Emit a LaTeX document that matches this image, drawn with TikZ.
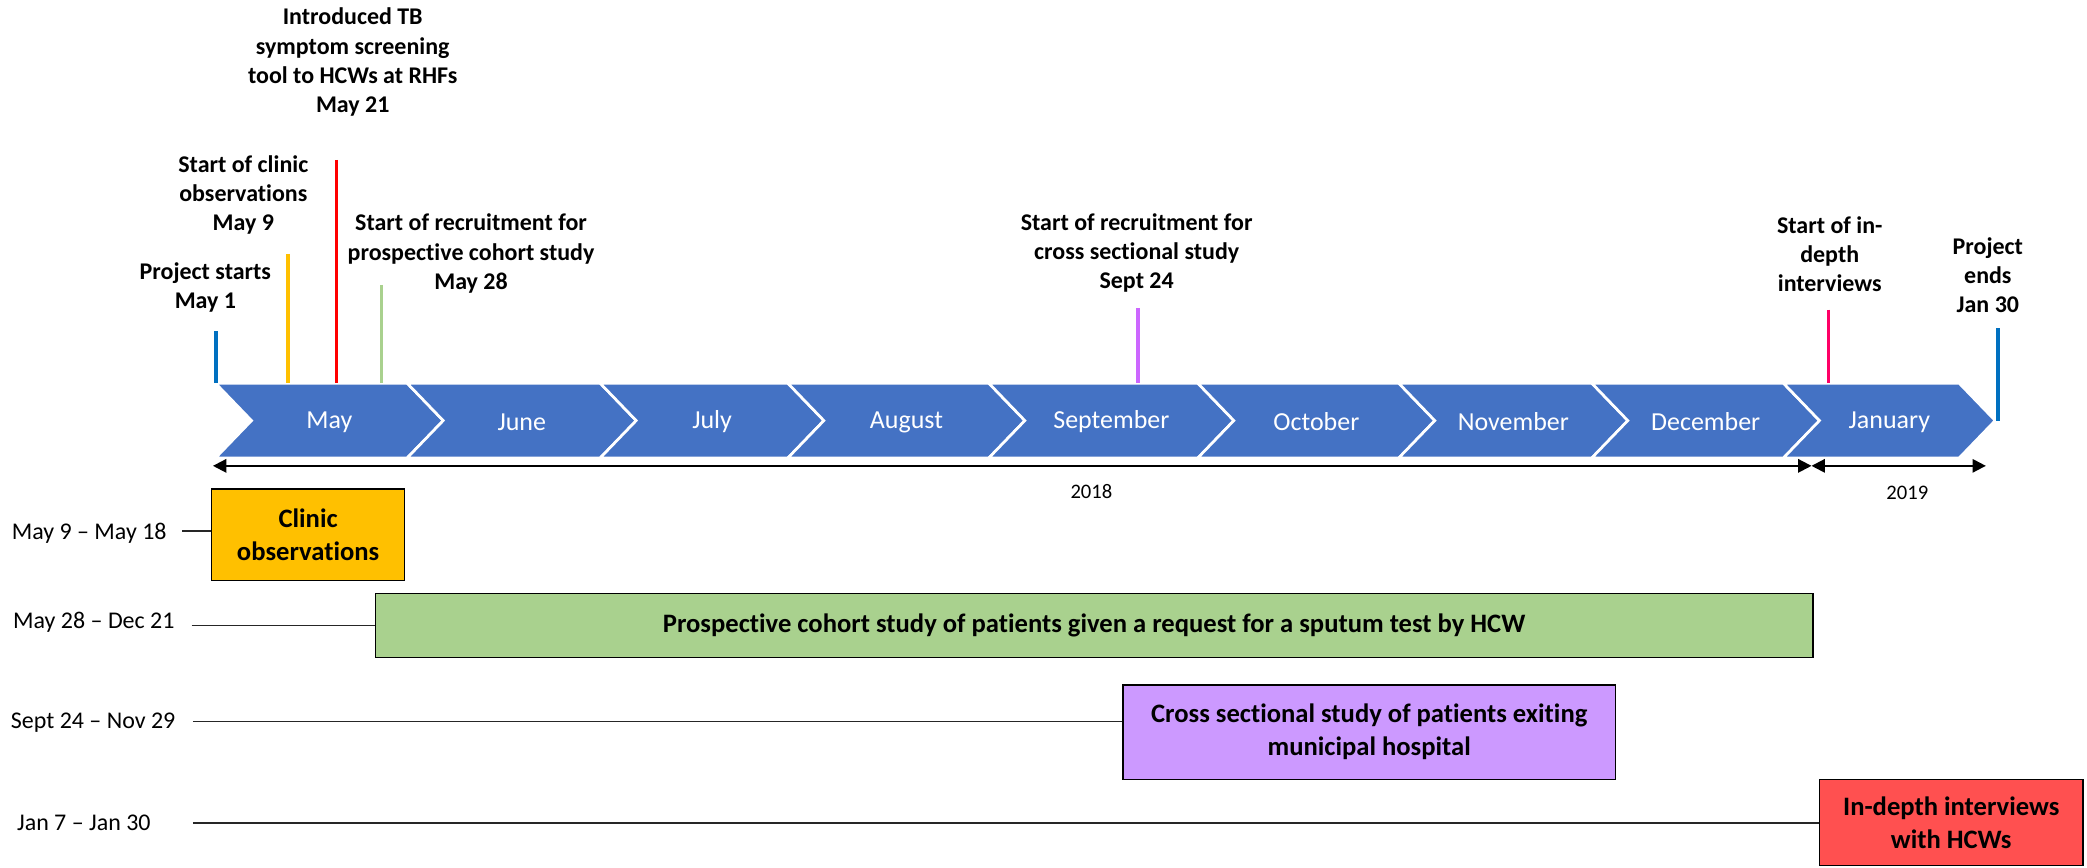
\documentclass[tikz,border=0pt]{standalone}
\usepackage{fontspec}
\setmainfont[Ligatures={TeX,NoCommon}]{Carlito}
\usetikzlibrary{arrows.meta}

\definecolor{chevblue}{HTML}{4472C4}
\definecolor{tkblue}{HTML}{0070C0}
\definecolor{tkorange}{HTML}{FFC000}
\definecolor{tkred}{HTML}{FF0000}
\definecolor{tkgreen}{HTML}{A9D18E}
\definecolor{tkpurple}{HTML}{CC66FF}
\definecolor{tkpink}{HTML}{FF0066}
\definecolor{boxpurple}{HTML}{CC99FF}
\definecolor{boxred}{HTML}{FF5050}

\begin{document}
\begin{tikzpicture}[x=1pt,y=1pt,yscale=-1,xscale=1,
  chevron/.style={fill=chevblue, draw=white, line width=2pt},
  month/.style={text=white, inner sep=0pt, font=\fontsize{19.5}{23}\selectfont},
  milestone/.style={align=center, inner sep=0pt, font=\bfseries\fontsize{18}{22}\selectfont},
  tickline/.style={line width=2.5pt},
  yeararrow/.style={line width=1.5pt, {Triangle[length=10pt,width=10pt]}-{Triangle[length=10pt,width=10pt]}},
  yearlabel/.style={inner sep=0pt, font=\fontsize{15.5}{18}\selectfont},
  rangelabel/.style={inner sep=0pt, font=\fontsize{18}{22}\selectfont},
  period/.style={draw=black, line width=1.2pt, align=center, inner sep=0pt, font=\bfseries\fontsize{20}{24.5}\selectfont},
  leader/.style={draw=black!85, line width=1.2pt}
]
  \useasboundingbox (0,0) rectangle (1568,652);

  %Shape: Chevrons
  \foreach \xa/\xb/\mon in {162/306/May, 306/451/June, 451/592/July, 592/743/August, 743/900/September, 900/1051/October, 1051/1196/November, 1196/1340/December, 1340/1472/January}{
    \draw[chevron] (\xa,288) -- (\xb,288) -- (\xb+27,316) -- (\xb,344) -- (\xa,344) -- (\xa+27,316) -- cycle ;
    \node[month] (m\mon) at ({(\xa+\xb)/2+13.5},317) {\mon};
  }

  %Straight Lines: milestones
  \coordinate (band) at (0,288);
  \coordinate (bandMid) at (0,316);
  \coordinate (tkStart) at (162.3,249);
  \coordinate (tkClinic) at (216.3,190.8);
  \coordinate (tkTool) at (252.9,120.2);
  \coordinate (tkCohort) at (286.8,214);
  \coordinate (tkCross) at (855,231.6);
  \coordinate (tkInterviews) at (1374,232.7);
  \coordinate (tkEnd) at (1501,246.5);
  \draw[tickline, draw=tkblue] (tkStart) -- (tkStart |- band) ;
  \draw[tickline, draw=tkorange] (tkClinic) -- (tkClinic |- band) ;
  \draw[tickline, draw=tkred] (tkTool) -- (tkTool |- band) ;
  \draw[tickline, draw=tkgreen] (tkCohort) -- (tkCohort |- band) ;
  \draw[tickline, draw=tkpurple] (tkCross) -- (tkCross |- band) ;
  \draw[tickline, draw=tkpink] (tkInterviews) -- (tkInterviews |- band) ;
  \draw[tickline, draw=tkblue] (tkEnd) -- (tkEnd |- bandMid) ;

  % Text Node
  \node[milestone] (evTool) at (265,46.7) {Introduced TB\\symptom screening\\tool to HCWs at RHFs\\May 21};
  \node[milestone] (evClinic) at (182.8,146.5) {Start of clinic\\observations\\May 9};
  \node[milestone] (evStart) at (154.3,216) {Project starts\\May 1};
  \node[milestone] (evCohort) at (353.9,190.5) {Start of recruitment for\\prospective cohort study\\May 28};
  \node[milestone] (evCross) at (854,190.2) {Start of recruitment for\\cross sectional study\\Sept 24};
  \node[milestone] (evInterviews) at (1374.7,191) {Start of in-\\depth\\interviews};
  \node[milestone] (evEnd) at (1493.5,206.7) {Project\\ends\\Jan 30};

  %Straight Lines: years
  \coordinate (yr18) at (160,350);
  \coordinate (yrSplit) at (1361,350);
  \coordinate (yr19) at (1492,350);
  \draw[yeararrow] (yr18) -- (yrSplit) ;
  \draw[yeararrow] (yrSplit) -- (yr19) ;
  \node[yearlabel] (lb2018) at (820,369) {2018};
  \node[yearlabel] (lb2019) at (1433,370) {2019};

  %Rect: study periods
  \node[period, fill=tkorange, minimum width=145pt, minimum height=68.5pt] (clinicBox) at (231.5,401.8) {Clinic\\observations};
  \node[period, fill=tkgreen, minimum width=1080pt, minimum height=48pt] (cohortBox) at (822,470) {Prospective cohort study of patients given a request for a sputum test by HCW};
  \node[period, fill=boxpurple, minimum width=370pt, minimum height=71pt] (crossBox) at (1028.7,550) {Cross sectional study of patients exiting\\municipal hospital};
  \node[period, fill=boxred, minimum width=198pt, minimum height=64.5pt] (interviewBox) at (1466,618) {In-depth interviews\\with HCWs};

  % Text Node
  \node[rangelabel] (rgClinic) at (67,400.6) {May 9 – May 18};
  \node[rangelabel] (rgCohort) at (70.5,467.5) {May 28 – Dec 21};
  \node[rangelabel] (rgCross) at (70,543) {Sept 24 – Nov 29};
  \node[rangelabel] (rgInterviews) at (63,618.5) {Jan 7 – Jan 30};

  %Straight Lines: leaders
  \coordinate (ldClinic) at (137,399);
  \coordinate (ldCohort) at (144,470);
  \coordinate (ldCross) at (145,542);
  \coordinate (ldInterviews) at (145,618.5);
  \draw[leader] (ldClinic) -- (ldClinic -| clinicBox.west) ;
  \draw[leader] (ldCohort) -- (ldCohort -| cohortBox.west) ;
  \draw[leader] (ldCross) -- (ldCross -| crossBox.west) ;
  \draw[leader] (ldInterviews) -- (ldInterviews -| interviewBox.west) ;

\end{tikzpicture}
\end{document}
